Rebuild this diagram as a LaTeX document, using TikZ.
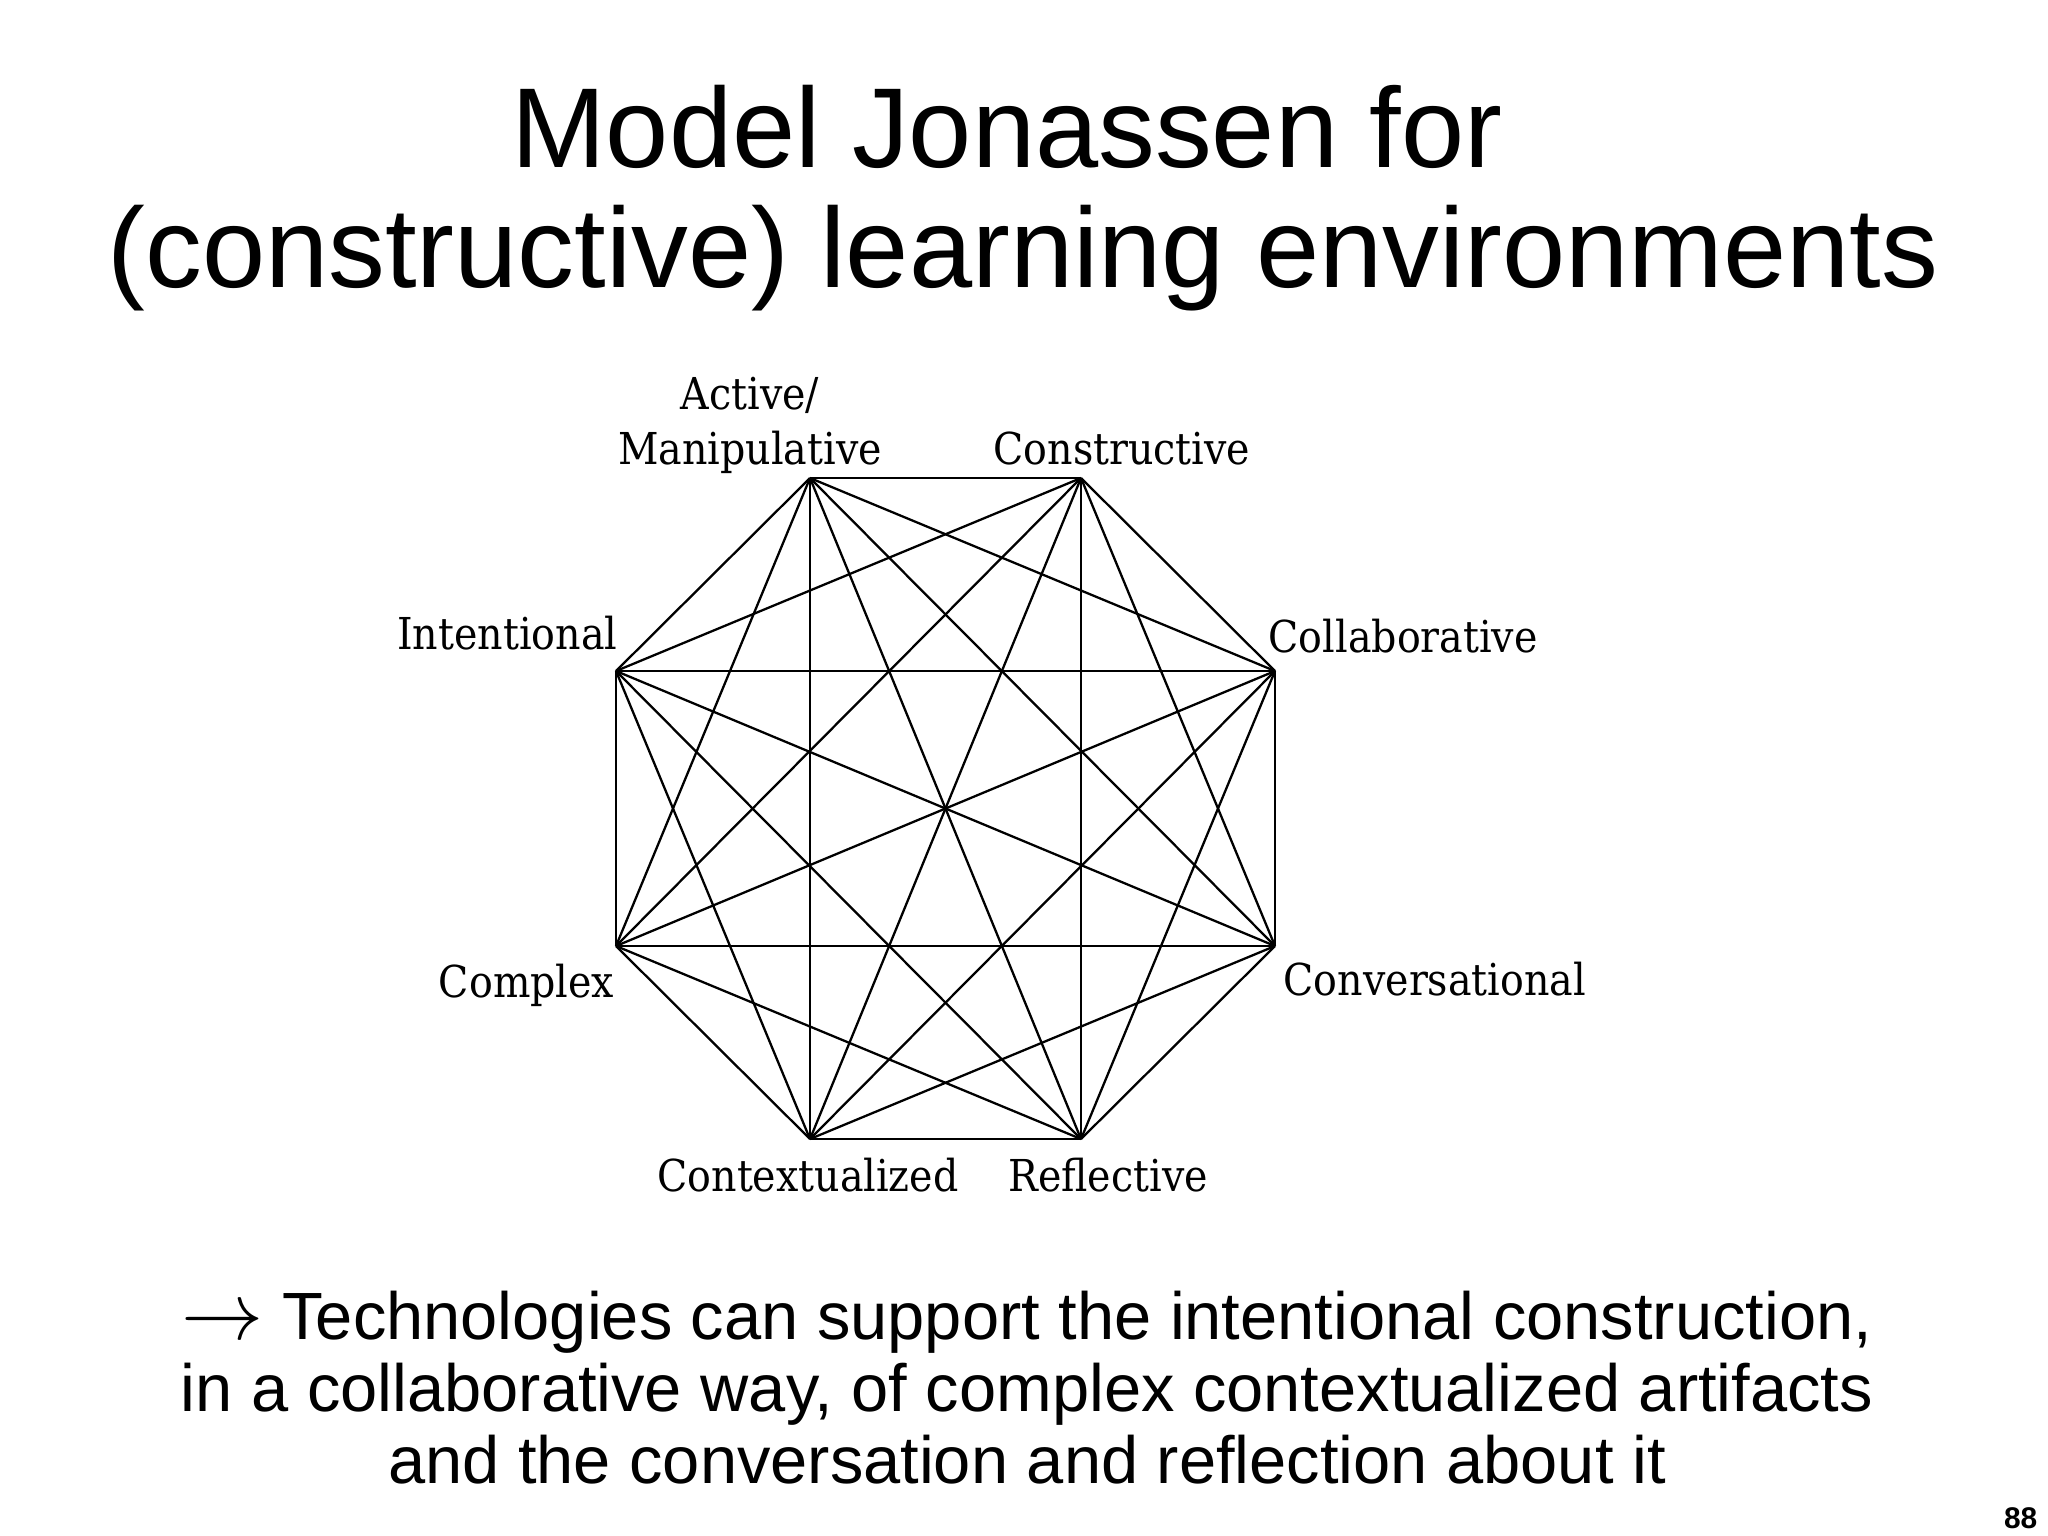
\documentclass[tikz,border=0pt]{standalone}
\usepackage{fontspec}
\setmainfont{Liberation Sans}
\newfontfamily\labfont[FakeStretch=0.9]{DejaVu Serif}
\begin{document}
\begin{tikzpicture}[x=0.01cm,y=-0.01cm,
  edge/.style={line width=0.65pt,black},
  lab/.style={font=\labfont\fontsize{12.5}{15}\selectfont,inner sep=0pt},
  titletext/.style={font=\fontsize{32.3}{36}\selectfont,inner sep=0pt,anchor=base},
  bodytext/.style={font=\fontsize{19}{21}\selectfont,inner sep=0pt,anchor=base}]
\useasboundingbox[fill=white] (0,0) rectangle (2048,1535);
% title
\node[titletext] (t1) at (1007,167) {Model Jonassen for};
\node[titletext] (t2) at (1023,287) {(constructive) learning environments};
% vertices
\coordinate (A) at (810,478);
\coordinate (B) at (1081,478);
\coordinate (C) at (1275,671);
\coordinate (D) at (1275,946);
\coordinate (E) at (1081,1139);
\coordinate (F) at (810,1139);
\coordinate (G) at (616,946);
\coordinate (H) at (616,671);
% complete graph
\foreach \u/\vlist in {A/{B,C,D,E,F,G,H},B/{C,D,E,F,G,H},C/{D,E,F,G,H},D/{E,F,G,H},E/{F,G,H},F/{G,H},G/{H}}{
  \foreach \v in \vlist { \draw[edge] (\u) -- (\v); }
}
% labels
\node[lab,anchor=base] (lA1) at (750,409) {Active/};
\node[lab,anchor=base] (lA2) at (750,464) {Manipulative};
\node[lab,anchor=base] (lB) at (1122,464) {Constructive};
\node[lab,anchor=base east] (lH) at (618,649) {Intentional};
\node[lab,anchor=base west] (lC) at (1268,652) {Collaborative};
\node[lab,anchor=base east] (lG) at (615,997) {Complex};
\node[lab,anchor=base west] (lD) at (1283,995) {Conversational};
\node[lab,anchor=base] (lF) at (808,1191) {Contextualized};
\node[lab,anchor=base] (lE) at (1108,1191) {Reflective};
% bottom text
\node[bodytext] (b1) at (1027,1339) {\scalebox{1.35}{$\rightarrow$} Technologies can support the intentional construction,};
\node[bodytext] (b2) at (1027,1411) {in a collaborative way, of complex contextualized artifacts};
\node[bodytext] (b3) at (1027,1483) {and the conversation and reflection about it};
% page number
\node[font=\bfseries\fontsize{8.5}{10}\selectfont,inner sep=0pt,anchor=base east] (pg) at (2038,1528) {88};
\end{tikzpicture}
\end{document}
